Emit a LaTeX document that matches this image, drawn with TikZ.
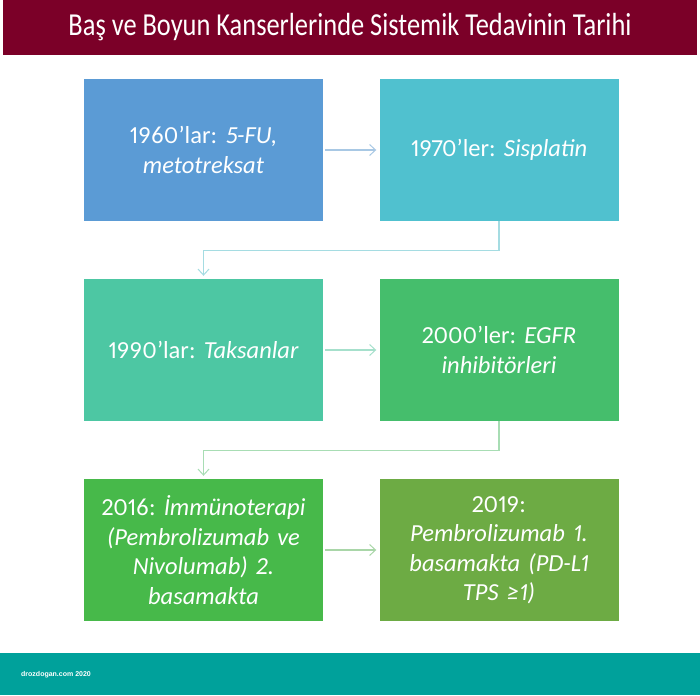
\documentclass[tikz,border=0pt]{standalone}
\usepackage{fontspec}
\setmainfont{Carlito}[Numbers=Proportional, ItalicFeatures={WordSpace=0.85}]
\newfontfamily\footfont{Liberation Sans}
\usetikzlibrary{arrows.meta}
\definecolor{titlebg}{HTML}{7B0028}
\definecolor{footbg}{HTML}{00A19B}
\definecolor{cA}{HTML}{5B9BD5}
\definecolor{cB}{HTML}{50C1CF}
\definecolor{cC}{HTML}{4DC7A3}
\definecolor{cD}{HTML}{45BE6C}
\definecolor{cE}{HTML}{47B94A}
\definecolor{cF}{HTML}{6DAB44}
\definecolor{arrA}{HTML}{A8C8E4}
\definecolor{arrB}{HTML}{A5DCE2}
\definecolor{arrC}{HTML}{A6E0CC}
\definecolor{arrD}{HTML}{A8DDB4}
\definecolor{arrE}{HTML}{A9D6A8}
\frenchspacing
\begin{document}
\begin{tikzpicture}[x=1pt,y=1pt,
  box/.style={rectangle, minimum width=239pt, minimum height=142pt, inner sep=4pt,
    text=white, align=center, text width=231pt, font=\fontsize{24.5}{29.5}\selectfont},
  conn/.style={line width=1.2pt, -{Straight Barb[length=6pt,width=11pt,line width=1pt]}, shorten >=3pt}]
\useasboundingbox (0,0) rectangle (700,-695);
\fill[titlebg] (3,0) rectangle (697,-55);
\node[text=white, anchor=base, inner sep=0pt] (title) at (350,-36) {\resizebox{563pt}{\height}{\fontsize{32}{36}\selectfont Baş ve Boyun Kanserlerinde Sistemik Tedavinin Tarihi}};
\fill[footbg] (0,-653) rectangle (700,-695);
\node[anchor=base west, text=white, font=\footfont\bfseries\fontsize{7}{9}\selectfont, inner sep=0pt] (foot) at (21,-676) {drozdogan.com 2020};

\node[box, fill=cA] (A) at (203.5,-150) {1960’lar: \textit{5-FU,}\\ \textit{metotreksat}};
\node[box, fill=cB] (B) at (499,-150) {1970’ler: \textit{Sisplatin}};
\node[box, fill=cC] (C) at (203.5,-350) {1990’lar: \textit{Taksanlar}};
\node[box, fill=cD] (D) at (499,-350) {2000’ler: \textit{EGFR}\\ \textit{inhibitörleri}};
\node[box, fill=cE] (E) at (203.5,-550) {2016: \textit{İmmünoterapi}\\ \textit{(Pembrolizumab ve}\\ \textit{Nivolumab) 2.}\\ \textit{basamakta}};
\node[box, fill=cF] (F) at (499,-550) {2019:\\ \textit{Pembrolizumab 1.}\\ \textit{basamakta (PD-L1}\\ \textit{TPS ≥1)}};

\draw[conn, draw=arrA, shorten <=2pt] (A.east) -- (B.west);
\draw[conn, draw=arrC, shorten <=2pt] (C.east) -- (D.west);
\draw[conn, draw=arrE, shorten <=2pt] (E.east) -- (F.west);
\draw[conn, draw=arrB] (B.south) -- ++(0,-29) -| (C.north);
\draw[conn, draw=arrD] (D.south) -- ++(0,-29) -| (E.north);
\end{tikzpicture}
\end{document}
